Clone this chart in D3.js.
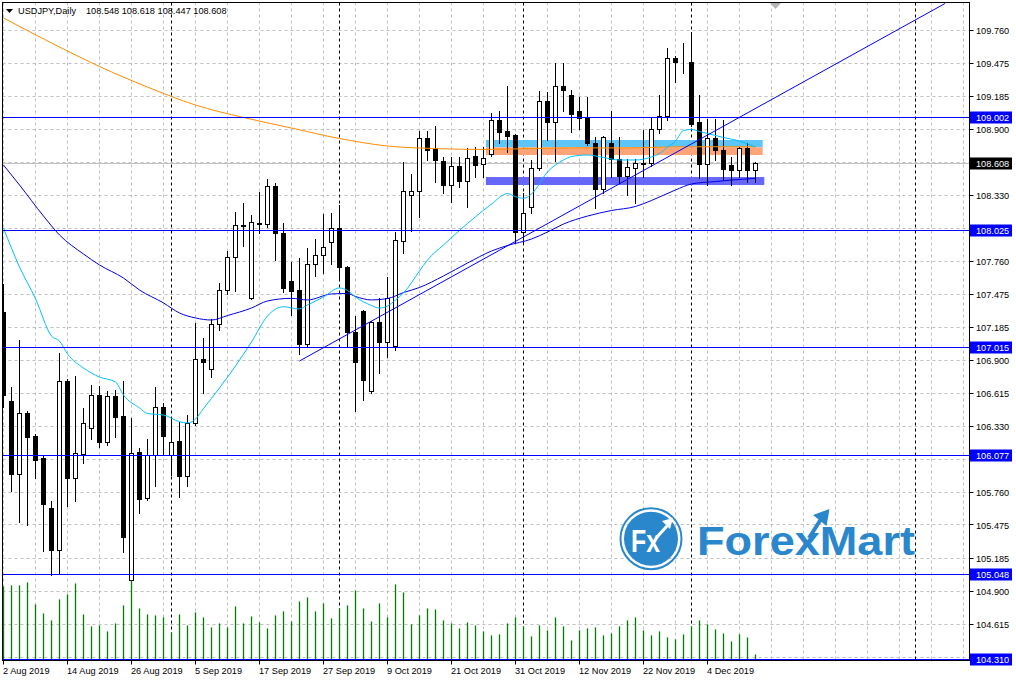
<!DOCTYPE html>
<html><head><meta charset="utf-8">
<script src="https://cdn.jsdelivr.net/npm/d3@7"></script>
<style>body{margin:0;background:#fff}svg{display:block}text{font-family:"Liberation Sans",Arial,sans-serif}</style>
</head><body><svg id="c" width="1016" height="681"></svg>
<script>
// ---------------- DATA ----------------
const symbol = "USDJPY,Daily";
const opens  = [107.312,106.541,105.911,106.437,106.240,106.047,105.622,105.252,106.714,105.876,
106.084,106.309,106.601,106.188,106.584,106.413,104.998,106.107,105.703,106.075,
106.489,106.075,106.200,105.893,106.356,106.905,106.824,107.214,107.509,107.795,
108.072,107.436,108.089,108.077,108.412,108.003,107.587,107.511,107.041,107.734,
107.806,107.925,108.046,107.704,107.141,107.327,106.633,107.231,107.054,107.020,
107.933,108.332,108.367,108.826,108.739,108.629,108.415,108.580,108.450,108.666,
108.600,108.687,108.984,108.889,108.846,108.011,108.224,108.566,109.149,108.961,
109.279,109.201,109.056,108.999,108.782,108.384,108.782,108.638,108.499,108.566,
108.609,108.609,108.898,109.013,109.519,109.487,109.487,108.961,108.600,108.826,
108.724,108.594,108.551,108.739,108.548];
const highs  = [107.563,106.673,107.078,106.465,106.263,106.081,105.685,106.968,106.740,106.766,
106.491,106.688,106.679,106.636,106.645,106.723,106.405,106.145,106.217,106.673,
106.529,106.399,106.370,106.428,107.223,107.093,107.257,107.569,107.849,108.185,
108.263,108.161,108.358,108.470,108.440,108.089,107.756,107.786,107.875,107.953,
108.167,108.176,108.250,107.720,107.288,107.340,107.245,107.439,107.626,108.016,
108.620,108.516,108.889,108.889,108.932,108.661,108.661,108.661,108.739,108.753,
108.753,109.042,109.065,109.279,108.860,108.349,108.638,109.236,109.230,109.481,
109.481,109.244,109.186,109.186,108.840,108.850,109.062,108.834,108.644,108.644,
108.898,109.013,109.201,109.606,109.539,109.654,109.750,109.201,108.990,108.990,
108.984,108.666,108.750,108.782,108.618];
const lows   = [106.497,105.769,105.503,105.475,105.879,105.252,105.039,105.050,105.639,105.685,
106.015,106.220,106.153,106.170,106.240,105.243,104.450,105.576,105.690,105.815,
106.090,105.908,105.720,105.815,106.340,106.616,106.755,107.165,107.474,107.503,
107.892,107.436,108.008,108.060,107.771,107.494,107.295,106.957,107.020,107.633,
107.656,107.734,107.598,107.029,106.463,106.561,106.620,106.795,106.928,106.990,
107.834,108.022,108.146,108.638,108.445,108.349,108.276,108.404,108.233,108.493,
108.493,108.670,108.782,108.710,107.916,107.916,108.176,108.550,108.811,108.629,
109.062,108.883,108.904,108.770,108.224,108.354,108.493,108.436,108.334,108.263,
108.493,108.590,108.869,108.984,109.316,109.389,108.930,108.479,108.421,108.638,
108.464,108.421,108.493,108.450,108.447];
const closes = [106.601,105.911,106.437,106.229,106.032,105.651,105.252,106.714,105.876,106.090,
106.350,106.601,106.188,106.584,106.405,105.365,106.096,105.700,106.075,106.489,
106.240,106.191,105.893,106.356,106.905,106.881,107.214,107.509,107.795,108.072,
108.060,108.098,108.077,108.412,108.003,107.526,107.496,107.041,107.734,107.806,
107.881,108.042,107.704,107.141,106.881,106.725,107.231,107.058,107.439,107.936,
108.367,108.367,108.826,108.724,108.632,108.415,108.580,108.450,108.652,108.594,
108.652,108.976,108.874,108.840,108.011,108.176,108.566,109.149,108.961,109.279,
109.244,109.036,108.999,108.782,108.384,108.834,108.638,108.499,108.575,108.609,
108.597,108.898,109.013,109.519,109.481,109.481,108.947,108.600,108.826,108.724,
108.557,108.551,108.739,108.551,108.608];
// tick volume, thousands
const volumes = [73,74,74,77,55,46,39,60,65,76, 45,33,34,28,36,54,79,51,45,44,
42,27,45,34,47,42,32,36,32,53, 36,43,37,31,44,48,38,58,62,48,
56,41,51,54,69,51,38,56,42,75, 67,35,44,51,50,39,36,31,37,34,
28,24,25,36,42,33,23,34,29,42, 33,19,29,31,32,24,26,33,39,42,
29,24,28,22,20,25,33,39,35,30, 26,18,25,22,5];

const dateLabels    = ["2 Aug 2019","14 Aug 2019","26 Aug 2019","5 Sep 2019","17 Sep 2019","27 Sep 2019",
                       "9 Oct 2019","21 Oct 2019","31 Oct 2019","12 Nov 2019","22 Nov 2019","4 Dec 2019"];
const dateLabelBars = [0,8,16,24,32,40,48,56,64,72,80,88];
const separatorBars = [21,42,65,86,114];   // first bar of Sep, Oct, Nov, Dec, Jan
const priceTicks = [109.760,109.475,109.185,108.900,108.615,108.330,108.045,107.760,107.475,107.185,
                    106.900,106.615,106.330,106.045,105.760,105.475,105.185,104.900,104.615,104.330];
const levels = [109.002,108.025,107.015,106.077,105.048,104.310];
const lastPrice = 108.608;

// moving averages
const slowMaBars = [0,6,12,18,24,30,36,42,48,54,60,66,72,78,84,94];
const slowMaVals = [109.868,109.652,109.448,109.270,109.114,109.006,108.915,108.824,108.759,108.737,108.729,108.737,108.743,108.742,108.752,108.753];
const midMaBars = [0,2,5,7,10,12,15,17,20,22,24,26,28,31,33,36,38,41,43,44,46,48,50,52,55,58,61,63,66,68,70,73,76,79,81,84,86,89,91,94];
const midMaVals = [108.594,108.421,108.152,107.988,107.823,107.728,107.615,107.511,107.399,107.312,107.269,107.251,107.290,107.355,107.416,107.439,107.425,107.477,107.481,107.455,107.425,107.437,107.489,107.533,107.633,107.745,107.849,107.897,107.953,108.014,108.083,108.152,108.200,108.235,108.287,108.378,108.430,108.451,108.464,108.479];
const fastMaBars = [0,2,4,6,7,8,10,12,14,15,17,18,20,22,23,24,25,27,29,31,33,35,37,38,40,42,43,44,46,47,48,49,50,52,53,55,57,59,61,63,64,65,66,68,70,71,73,75,77,79,81,82,83,84,85,86,87,88,90,92,94];
const fastMaVals = [108.048,107.711,107.436,107.112,107.069,106.957,106.835,106.757,106.714,106.601,106.489,106.441,106.428,106.370,106.359,106.393,106.484,106.662,106.853,107.061,107.286,107.366,107.347,107.381,107.451,107.529,107.507,107.451,107.377,107.355,107.372,107.425,107.485,107.676,107.771,107.902,108.027,108.146,108.256,108.347,108.320,108.306,108.343,108.534,108.638,108.668,108.681,108.659,108.638,108.638,108.664,108.694,108.750,108.802,108.893,108.902,108.885,108.867,108.833,108.802,108.750];

// trend ray
const trendBars = [37, 117.69];
const trendVals = [106.896, 109.994];
// zones
const zoneStart  = [60.3, 60.3, 60.3];
const zoneEnd    = [94.9, 94.9, 95.1];
const zoneTop    = [108.811, 108.748, 108.490];
const zoneBottom = [108.748, 108.681, 108.421];

// ---------------- DRAW ----------------
const W = 1016, H = 681;
const L = 2.5, R = 969.5, T = 2.5, B = 660.5;
const svg = d3.select("#c");
const x  = d3.scaleLinear().domain([0,120]).range([3.5,963.5]);
const y  = d3.scaleLinear().domain([104.31,109.76]).range([659.4,30.5]);
const vy = d3.scaleLinear().domain([0,100]).range([659.4,559.4]);
const crisp = v => Math.round(v - 0.5) + 0.5;
const FS = 9.2;

svg.append("rect").attr("width",W).attr("height",H).attr("fill","#fff");
svg.append("defs").append("clipPath").attr("id","plot")
  .append("rect").attr("x",3).attr("y",3).attr("width",966).attr("height",657);
const plot = svg.append("g").attr("clip-path","url(#plot)");

// grid
plot.selectAll("line.gv").data(d3.range(0,121,4)).join("line").attr("class","gv")
  .attr("x1",d=>x(d)).attr("x2",d=>x(d)).attr("y1",T).attr("y2",B)
  .attr("stroke","#c0c0c0").attr("stroke-dasharray","3,3");
plot.selectAll("line.gh").data(priceTicks).join("line").attr("class","gh")
  .attr("x1",L).attr("x2",R).attr("y1",d=>crisp(y(d))).attr("y2",d=>crisp(y(d)))
  .attr("stroke","#c0c0c0").attr("stroke-dasharray","3,3");

// period separators
plot.selectAll("line.sep").data(separatorBars).join("line").attr("class","sep")
  .attr("x1",d=>x(d)).attr("x2",d=>x(d)).attr("y1",T).attr("y2",B)
  .attr("stroke","#000").attr("stroke-dasharray","3,3");

// zones (background)
const zoneColors = ["#5EC6F6","#FFA477","#6666FA"];
plot.selectAll("rect.zone").data(d3.range(zoneStart.length)).join("rect").attr("class","zone")
  .attr("x",i=>x(zoneStart[i])).attr("width",i=>x(zoneEnd[i])-x(zoneStart[i]))
  .attr("y",i=>y(zoneTop[i])).attr("height",i=>y(zoneBottom[i])-y(zoneTop[i]))
  .attr("fill",(i)=>zoneColors[i]);

// bid line
plot.append("line").attr("x1",L).attr("x2",R).attr("y1",crisp(y(lastPrice))).attr("y2",crisp(y(lastPrice)))
  .attr("stroke","#c0c0c0");

// candles
const bars = d3.range(opens.length);
const cg = plot.append("g");
cg.selectAll("line.wick").data(bars).join("line").attr("class","wick")
  .attr("x1",i=>x(i)).attr("x2",i=>x(i))
  .attr("y1",i=>Math.round(y(highs[i]))).attr("y2",i=>Math.round(y(lows[i]))+1)
  .attr("stroke","#000");
cg.selectAll("rect.body").data(bars).join("rect").attr("class","body")
  .attr("x",i=>x(i)-2).attr("width",4)
  .attr("y",i=>crisp(y(Math.max(opens[i],closes[i]))))
  .attr("height",i=>Math.max(0,crisp(y(Math.min(opens[i],closes[i])))-crisp(y(Math.max(opens[i],closes[i])))))
  .attr("fill",i=>closes[i]>=opens[i]?"#fff":"#000").attr("stroke","#000");

// volumes
plot.selectAll("line.vol").data(bars).join("line").attr("class","vol")
  .attr("x1",i=>x(i)).attr("x2",i=>x(i)).attr("y1",i=>vy(volumes[i])).attr("y2",vy(0))
  .attr("stroke","#008000").attr("stroke-width",1.3);

// moving averages
const maLine = (bs,vs) => d3.line().curve(d3.curveMonotoneX)(bs.map((b,k)=>[x(b),y(vs[k])]));
plot.append("path").attr("d",maLine(slowMaBars,slowMaVals)).attr("fill","none").attr("stroke","#FF8C00");
plot.append("path").attr("d",maLine(midMaBars,midMaVals)).attr("fill","none").attr("stroke","#0000E0");
plot.append("path").attr("d",maLine(fastMaBars,fastMaVals)).attr("fill","none").attr("stroke","#00BFFF");

// trend line
plot.append("line").attr("x1",x(trendBars[0])).attr("y1",y(trendVals[0]))
  .attr("x2",x(trendBars[1])).attr("y2",y(trendVals[1])).attr("stroke","#0000FF");

// horizontal levels
plot.selectAll("line.lvl").data(levels).join("line").attr("class","lvl")
  .attr("x1",L).attr("x2",R).attr("y1",d=>crisp(y(d))).attr("y2",d=>crisp(y(d)))
  .attr("stroke","#0000FF");

// frame
svg.append("rect").attr("x",L).attr("y",T).attr("width",R-L).attr("height",B-T)
  .attr("fill","none").attr("stroke","#000");

// right axis
const ax = svg.append("g");
const tags = levels.concat([lastPrice]);
const visibleTicks = priceTicks.filter(p => tags.every(t => Math.abs(y(t)-y(p)) > 9));
ax.selectAll("line.tk").data(priceTicks).join("line").attr("class","tk")
  .attr("x1",R).attr("x2",R+4).attr("y1",d=>crisp(y(d))).attr("y2",d=>crisp(y(d))).attr("stroke","#000");
ax.selectAll("text.tl").data(visibleTicks).join("text").attr("class","tl")
  .attr("x",976).attr("y",d=>y(d)+3.6).attr("font-size",FS).attr("fill","#000")
  .text(d=>d.toFixed(3));
function priceTag(p, bg){
  const cy = crisp(y(p));
  ax.append("rect").attr("x",970).attr("y",cy-6).attr("width",42).attr("height",12).attr("fill",bg);
  ax.append("text").attr("x",976).attr("y",cy+3.6).attr("font-size",FS).attr("fill","#fff").text(p.toFixed(3));
}
levels.forEach(p=>priceTag(p,"#0000FF"));
priceTag(lastPrice,"#000");

// bottom axis
ax.selectAll("line.dt").data(dateLabelBars).join("line").attr("class","dt")
  .attr("x1",d=>x(d)).attr("x2",d=>x(d)).attr("y1",B).attr("y2",B+4).attr("stroke","#000");
ax.selectAll("text.dl").data(dateLabels).join("text").attr("class","dl")
  .attr("x",(d,k)=>x(dateLabelBars[k])-0.5).attr("y",673.5).attr("font-size",FS).attr("fill","#000")
  .text(d=>d);

// header
svg.append("polygon").attr("points","6,9 13,9 9.5,13").attr("fill","#000");
svg.append("text").attr("x",18).attr("y",14).attr("font-size",FS).text(symbol);
const last = opens.length-1;
svg.append("text").attr("x",86).attr("y",14).attr("font-size",FS)
  .text([opens[last],highs[last],lows[last],closes[last]].map(v=>v.toFixed(3)).join(" "));
// chart shift marker
svg.append("polygon").attr("points","770,3 781,3 775.5,9").attr("fill","#b4b4b4");

// logo
const lg = svg.append("g");
const logoBlue = "#2B87CB";
lg.append("circle").attr("cx",651).attr("cy",538.7).attr("r",30.5).attr("fill","none").attr("stroke",logoBlue).attr("stroke-width",2);
lg.append("circle").attr("cx",651).attr("cy",538.7).attr("r",27).attr("fill",logoBlue);
lg.append("text").attr("x",631).attr("y",552).attr("fill","#fff").attr("font-family","Noto Sans")
  .attr("font-weight","bold").attr("font-size",32).attr("textLength",29).attr("lengthAdjust","spacingAndGlyphs").text("Fx");
lg.append("line").attr("x1",657).attr("y1",537).attr("x2",667).attr("y2",526).attr("stroke","#fff").attr("stroke-width",3);
lg.append("polygon").attr("points","662,521 673,518 670,529").attr("fill","#fff");
lg.append("text").attr("x",697).attr("y",555).attr("fill",logoBlue).attr("font-family","Noto Sans")
  .attr("font-weight","bold").attr("font-size",41).attr("textLength",218).attr("lengthAdjust","spacingAndGlyphs").text("ForexMart");
lg.append("line").attr("x1",809).attr("y1",538).attr("x2",823).attr("y2",516).attr("stroke",logoBlue).attr("stroke-width",4);
lg.append("polygon").attr("points","813,515 829.5,509 826.5,526").attr("fill",logoBlue);
</script></body></html>
